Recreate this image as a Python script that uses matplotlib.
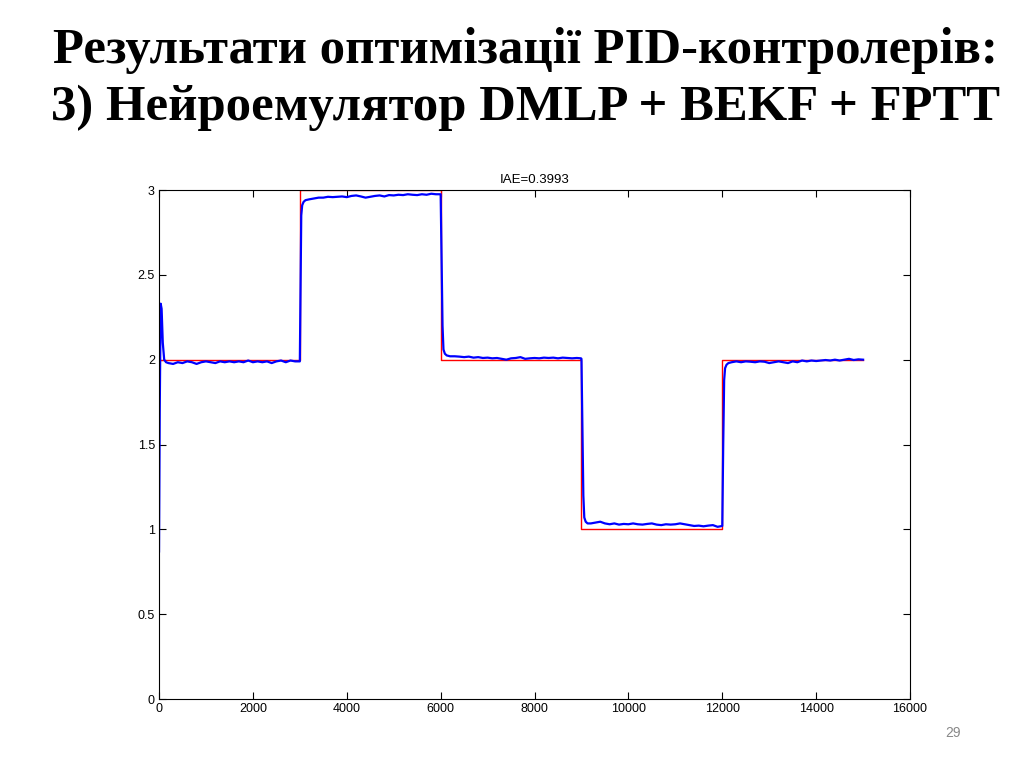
import numpy as np
import matplotlib.pyplot as plt

# reference (set point) steps
ref_t = [0, 3000, 6000, 9000, 12000, 15000]
ref_y = [2, 3, 2, 1, 2, 2]

# plant output, segment by segment
t1 = [0, 15, 35, 55, 80, 110, 150] + list(range(200, 3000, 100)) + [2990]
y1 = [0.87, 1.70, 2.33, 2.30, 2.10, 2.00, 1.985,
      1.980, 1.975, 1.985, 1.980, 1.990, 1.985, 1.975, 1.985, 1.990, 1.985,
      1.980, 1.990, 1.985, 1.990, 1.985, 1.990, 1.985, 1.995, 1.985, 1.990,
      1.985, 1.990, 1.980, 1.990, 1.995, 1.985, 1.995, 1.990, 1.990]

t2 = [3000, 3015, 3030, 3050, 3080, 3120, 3200] + list(range(3300, 6000, 100)) + [5990]
y2 = [1.99, 2.40, 2.85, 2.91, 2.93, 2.94, 2.945,
      2.950, 2.955, 2.955, 2.960, 2.958, 2.960, 2.962, 2.958, 2.965, 2.968,
      2.962, 2.955, 2.960, 2.965, 2.968, 2.962, 2.970, 2.968, 2.972, 2.970,
      2.975, 2.972, 2.970, 2.975, 2.972, 2.978, 2.975, 2.975]

t3 = [6000, 6020, 6040, 6060, 6090, 6130, 6200] + list(range(6300, 9000, 100)) + [8990]
y3 = [2.975, 2.60, 2.20, 2.06, 2.035, 2.025, 2.02,
      2.020, 2.018, 2.015, 2.018, 2.012, 2.015, 2.010, 2.012, 2.008, 2.010,
      2.005, 2.000, 2.008, 2.010, 2.015, 2.005, 2.008, 2.010, 2.008, 2.012,
      2.010, 2.012, 2.008, 2.012, 2.010, 2.008, 2.010, 2.008]

t4 = [9000, 9020, 9040, 9060, 9090, 9130, 9200] + list(range(9300, 12000, 100)) + [11990]
y4 = [2.005, 1.60, 1.20, 1.07, 1.045, 1.035, 1.035,
      1.040, 1.045, 1.035, 1.030, 1.035, 1.028, 1.032, 1.030, 1.035, 1.030,
      1.028, 1.032, 1.035, 1.028, 1.025, 1.030, 1.028, 1.030, 1.035, 1.030,
      1.025, 1.020, 1.022, 1.018, 1.022, 1.025, 1.015, 1.020]

t5 = [12000, 12020, 12040, 12060, 12090, 12130, 12200] + list(range(12300, 15001, 100))
y5 = [1.02, 1.50, 1.88, 1.95, 1.97, 1.98, 1.985,
      1.990, 1.985, 1.990, 1.988, 1.985, 1.990, 1.988, 1.980, 1.985, 1.990,
      1.985, 1.980, 1.990, 1.985, 1.995, 1.990, 1.995, 1.992, 1.995, 1.998,
      1.995, 2.000, 1.995, 2.000, 2.005, 1.998, 2.002, 2.000]

t_out = t1 + t2 + t3 + t4 + t5
y_out = y1 + y2 + y3 + y4 + y5

title_lines = ["Результати оптимізації PID-контролерів:",
               "3) Нейроемулятор DMLP + BEKF + FPTT"]

fig = plt.figure(figsize=(10.24, 7.68), dpi=100)
fig.text(0.513, 0.934, title_lines[0], ha='center', va='center',
         fontsize=36.5, fontweight='bold', family='Liberation Serif')
fig.text(0.513, 0.859, title_lines[1], ha='center', va='center',
         fontsize=36.5, fontweight='bold', family='Liberation Serif')
fig.text(0.931, 0.045, "29", ha='center', va='center', fontsize=10,
         color='#888888', family='Liberation Sans')

ax = fig.add_axes([0.1553, 0.0898, 0.7334, 0.6628])
ax.step(ref_t, ref_y, where='post', color='red', lw=1.0)
ax.plot(t_out, y_out, color='blue', lw=1.6)

ax.set_xlim(0, 16000)
ax.set_ylim(0, 3)
ax.set_xticks(range(0, 16001, 2000))
ax.set_yticks([0, 0.5, 1, 1.5, 2, 2.5, 3])
ax.set_yticklabels(['0', '0.5', '1', '1.5', '2', '2.5', '3'])
ax.tick_params(direction='in', top=True, right=True, length=5, width=0.8,
               labelsize=9, pad=3)
for lbl in ax.get_xticklabels() + ax.get_yticklabels():
    lbl.set_family('Liberation Sans')
for s in ax.spines.values():
    s.set_linewidth(0.8)
ax.set_title("IAE=0.3993", fontsize=9.5, family='Liberation Sans', pad=5)

plt.savefig("out.png", dpi=100)
